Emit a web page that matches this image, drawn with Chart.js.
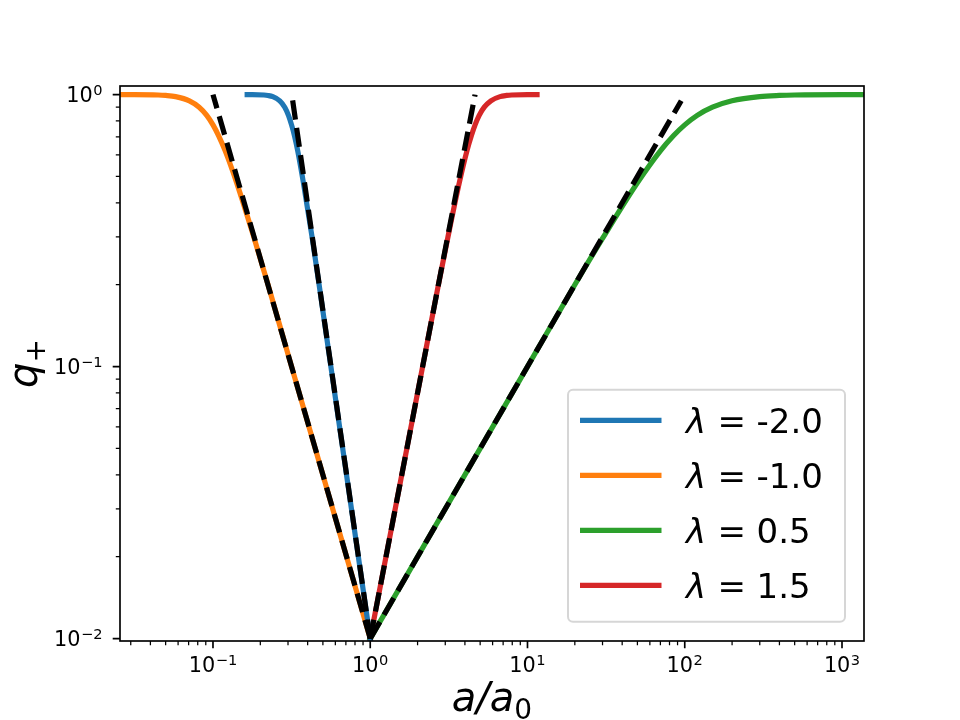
<!DOCTYPE html>
<html><head><meta charset="utf-8">
<script src="https://cdn.jsdelivr.net/npm/chart.js@4.4.0/dist/chart.umd.min.js"></script>
<style>html,body{margin:0;padding:0;background:#fff;}canvas{display:block;}</style>
</head><body>
<canvas id="c" width="960" height="720"></canvas>
<script>
// ---- data ----
const lambdaValues = ['-2.0', '-1.0', '0.5', '1.5'];
const seriesColors = ['#1f77b4', '#ff7f0e', '#2ca02c', '#d62728'];

// solid curves (a/a0 , q+)
const blueA   = [0.165, 0.178, 0.211, 0.2236, 0.240, 0.266, 0.286, 0.302, 0.316, 0.3296, 0.346, 0.376, 0.428, 0.473, 0.562, 1];
const blueQ   = [1.0, 1.0, 0.997, 0.993, 0.983, 0.949, 0.899, 0.839, 0.774, 0.707, 0.621, 0.474, 0.296, 0.2, 0.1, 0.01];
const orangeA = [0.02, 0.0261, 0.0316, 0.0448, 0.05, 0.0578, 0.0708, 0.0817, 0.0913, 0.1, 0.1085, 0.1196, 0.1415, 0.183, 0.224, 0.316, 1];
const orangeQ = [1.0, 1.0, 1.0, 0.997, 0.993, 0.983, 0.949, 0.899, 0.839, 0.774, 0.707, 0.621, 0.474, 0.296, 0.2, 0.1, 0.01];
const greenA  = [1, 10, 20, 30, 50, 70, 85, 100, 120, 150, 200, 300, 400, 500, 1000, 2000];
const greenQ  = [0.01, 0.1, 0.2, 0.296, 0.474, 0.621, 0.707, 0.774, 0.839, 0.899, 0.949, 0.983, 0.993, 0.997, 1.0, 1.0];
const redA    = [1, 2.154, 2.714, 3.107, 3.684, 4.12, 4.40, 4.642, 4.93, 5.31, 5.85, 6.69, 7.37, 7.94, 10, 11.5];
const redQ    = [0.01, 0.1, 0.2, 0.296, 0.474, 0.621, 0.707, 0.774, 0.839, 0.899, 0.949, 0.983, 0.993, 0.997, 1.0, 1.0];

// dashed asymptotes
const blueDashA   = [1, 0.318];
const blueDashQ   = [0.01, 0.99];
const orangeDashA = [1, 0.1];
const orangeDashQ = [0.01, 1.0];
const greenDashA  = [1, 95];
const greenDashQ  = [0.01, 0.95];
const redDashA    = [1, 4.64];
const redDashQ    = [0.01, 1.0];

// axes: tick values and labels (base, exponent)
const xTickValues = [0.1, 1, 10, 100, 1000];
const xTickLabels = [['10', '\u22121'], ['10', '0'], ['10', '1'], ['10', '2'], ['10', '3']];
const yTickValues = [0.01, 0.1, 1];
const yTickLabels = [['10', '\u22122'], ['10', '\u22121'], ['10', '0']];
const xLimits = [0.02563, 1380];
const yLimits = [0.0098, 1.0757];
const xTitle = ['a/a', '0'];   // main (italic), subscript
const yTitle = ['q', '+'];

// ---- build ----
const pts = (xs, ys) => xs.map((x, i) => ({x: x, y: ys[i]}));
const curves = [[blueA, blueQ], [orangeA, orangeQ], [greenA, greenQ], [redA, redQ]];
const dashes = [[blueDashA, blueDashQ], [orangeDashA, orangeDashQ], [greenDashA, greenDashQ], [redDashA, redDashQ]];

const datasets = [];
curves.forEach((c, i) => datasets.push({
  label: '\u03BB = ' + lambdaValues[i], data: pts(c[0], c[1]),
  borderColor: seriesColors[i], borderWidth: 5.2, pointRadius: 0, fill: false,
  cubicInterpolationMode: 'monotone', borderCapStyle: 'square', borderJoinStyle: 'round',
  clip: 0, order: 1
}));
dashes.forEach((c, i) => datasets.push({
  label: 'asym' + i, data: pts(c[0], c[1]),
  borderColor: '#000000', borderWidth: 5.2, pointRadius: 0, fill: false,
  borderDash: [19.3, 8.3], borderCapStyle: 'butt', clip: 0, order: 0
}));

function minorValues(lo, hi) {
  const out = [];
  for (let e = -4; e <= 4; e++) for (let m = 2; m <= 9; m++) {
    const v = m * Math.pow(10, e);
    if (v >= lo && v <= hi) out.push(v);
  }
  return out;
}

const FAM = '"DejaVu Sans"';
const TICK = 20.8, SUP = 14.6;

function powerLabel(ctx, lab) {
  ctx.font = TICK + 'px ' + FAM;
  const w1 = ctx.measureText(lab[0]).width;
  ctx.font = SUP + 'px ' + FAM;
  const w2 = ctx.measureText(lab[1]).width;
  return {w1: w1, w2: w2, w: w1 + w2 + 0.5};
}
function drawPower(ctx, lab, x, base) {
  const m = powerLabel(ctx, lab);
  ctx.font = TICK + 'px ' + FAM;
  ctx.fillText(lab[0], x, base);
  ctx.font = SUP + 'px ' + FAM;
  ctx.fillText(lab[1], x + m.w1 + 0.5, base - 7.2);
}

const axesPlugin = {
  id: 'mplAxes',
  afterDraw(chart) {
    const ctx = chart.ctx, a = chart.chartArea;
    const xs = chart.scales.x, ys = chart.scales.y;
    ctx.save();
    ctx.strokeStyle = '#000';
    ctx.fillStyle = '#000';
    // minor ticks
    ctx.lineWidth = 1.25;
    ctx.beginPath();
    minorValues(xLimits[0], xLimits[1]).forEach(v => {
      const p = xs.getPixelForValue(v);
      ctx.moveTo(p, a.bottom); ctx.lineTo(p, a.bottom + 4.2);
    });
    minorValues(yLimits[0], yLimits[1]).forEach(v => {
      const p = ys.getPixelForValue(v);
      ctx.moveTo(a.left, p); ctx.lineTo(a.left - 4.2, p);
    });
    ctx.stroke();
    // major ticks
    ctx.lineWidth = 1.67;
    ctx.beginPath();
    xTickValues.forEach(v => {
      const p = xs.getPixelForValue(v);
      ctx.moveTo(p, a.bottom); ctx.lineTo(p, a.bottom + 7.3);
    });
    yTickValues.forEach(v => {
      const p = ys.getPixelForValue(v);
      ctx.moveTo(a.left, p); ctx.lineTo(a.left - 7.3, p);
    });
    ctx.stroke();
    // spines
    ctx.strokeRect(a.left, a.top, a.right - a.left, a.bottom - a.top);

    // tick labels
    ctx.textAlign = 'left';
    ctx.textBaseline = 'alphabetic';
    xTickValues.forEach((v, i) => {
      const p = xs.getPixelForValue(v);
      const m = powerLabel(ctx, xTickLabels[i]);
      drawPower(ctx, xTickLabels[i], p - m.w / 2, a.bottom + 31);
    });
    yTickValues.forEach((v, i) => {
      const p = ys.getPixelForValue(v);
      const m = powerLabel(ctx, yTickLabels[i]);
      drawPower(ctx, yTickLabels[i], a.left - 17.5 - m.w, p + 7.6);
    });

    // axis titles
    const T = 40, S = 28;
    ctx.font = 'italic ' + T + 'px ' + FAM;
    const xw1 = ctx.measureText(xTitle[0]).width;
    ctx.font = S + 'px ' + FAM;
    const xw2 = ctx.measureText(xTitle[1]).width;
    const xc = (a.left + a.right) / 2;
    const x0 = xc - (xw1 + xw2) / 2;
    ctx.font = 'italic ' + T + 'px ' + FAM;
    ctx.fillText(xTitle[0], x0, 711);
    ctx.font = S + 'px ' + FAM;
    ctx.fillText(xTitle[1], x0 + xw1, 719);

    ctx.save();
    ctx.translate(37, (a.top + a.bottom) / 2);
    ctx.rotate(-Math.PI / 2);
    ctx.font = 'italic ' + T + 'px ' + FAM;
    const yw1 = ctx.measureText(yTitle[0]).width;
    ctx.font = S + 'px ' + FAM;
    const yw2 = ctx.measureText(yTitle[1]).width;
    const y0 = -(yw1 + yw2) / 2;
    ctx.font = 'italic ' + T + 'px ' + FAM;
    ctx.fillText(yTitle[0], y0, 0);
    ctx.font = S + 'px ' + FAM;
    ctx.fillText(yTitle[1], y0 + yw1, 8);
    ctx.restore();
    ctx.restore();
  },
  afterDatasetsDraw(chart) {
    // legend inside the axes (lower right)
    const ctx = chart.ctx, a = chart.chartArea;
    const bw = 277, bh = 232;
    const bx = a.right - 19 - bw, by = a.bottom - 19.3 - bh;
    ctx.save();
    ctx.beginPath();
    ctx.roundRect(bx, by, bw, bh, 5);
    ctx.fillStyle = 'rgba(255,255,255,0.8)';
    ctx.fill();
    ctx.lineWidth = 2;
    ctx.strokeStyle = 'rgba(204,204,204,0.8)';
    ctx.stroke();
    const L = 34;
    for (let i = 0; i < 4; i++) {
      const cy = by + 30.7 + i * 55;
      ctx.beginPath();
      ctx.strokeStyle = chart.data.datasets[i].borderColor;
      ctx.lineWidth = 5.2;
      ctx.lineCap = 'butt';
      ctx.moveTo(bx + 12, cy); ctx.lineTo(bx + 93.5, cy);
      ctx.stroke();
      const base = cy + 12.6;
      ctx.fillStyle = '#000';
      ctx.textBaseline = 'alphabetic';
      ctx.textAlign = 'left';
      ctx.font = 'italic ' + L + 'px ' + FAM;
      ctx.fillText('\u03BB', bx + 118, base);
      ctx.font = L + 'px ' + FAM;
      ctx.fillText('=', bx + 149.5, base);
      ctx.fillText(lambdaValues[i], bx + 188.5, base);
    }
    ctx.restore();
  }
};

Chart.defaults.font.family = FAM;
Chart.defaults.color = '#000';

new Chart(document.getElementById('c'), {
  type: 'line',
  data: {datasets: datasets},
  plugins: [axesPlugin],
  options: {
    responsive: false, animation: false, devicePixelRatio: 1,
    layout: {padding: {left: 0, right: 96, top: 86, bottom: 0}},
    plugins: {legend: {display: false}, tooltip: {enabled: false}},
    scales: {
      x: {
        type: 'logarithmic', min: xLimits[0], max: xLimits[1],
        afterBuildTicks: s => { s.ticks = xTickValues.map(v => ({value: v, major: true})); },
        afterFit: s => { s.height = 79; s.paddingLeft = 0; s.paddingRight = 0; },
        ticks: {display: false},
        grid: {display: false, drawTicks: false}, border: {display: false},
        title: {display: false}
      },
      y: {
        type: 'logarithmic', min: yLimits[0], max: yLimits[1],
        afterBuildTicks: s => { s.ticks = yTickValues.map(v => ({value: v, major: true})); },
        afterFit: s => { s.width = 120; s.paddingTop = 0; s.paddingBottom = 0; },
        ticks: {display: false},
        grid: {display: false, drawTicks: false}, border: {display: false},
        title: {display: false}
      }
    }
  }
});
</script>
</body></html>
